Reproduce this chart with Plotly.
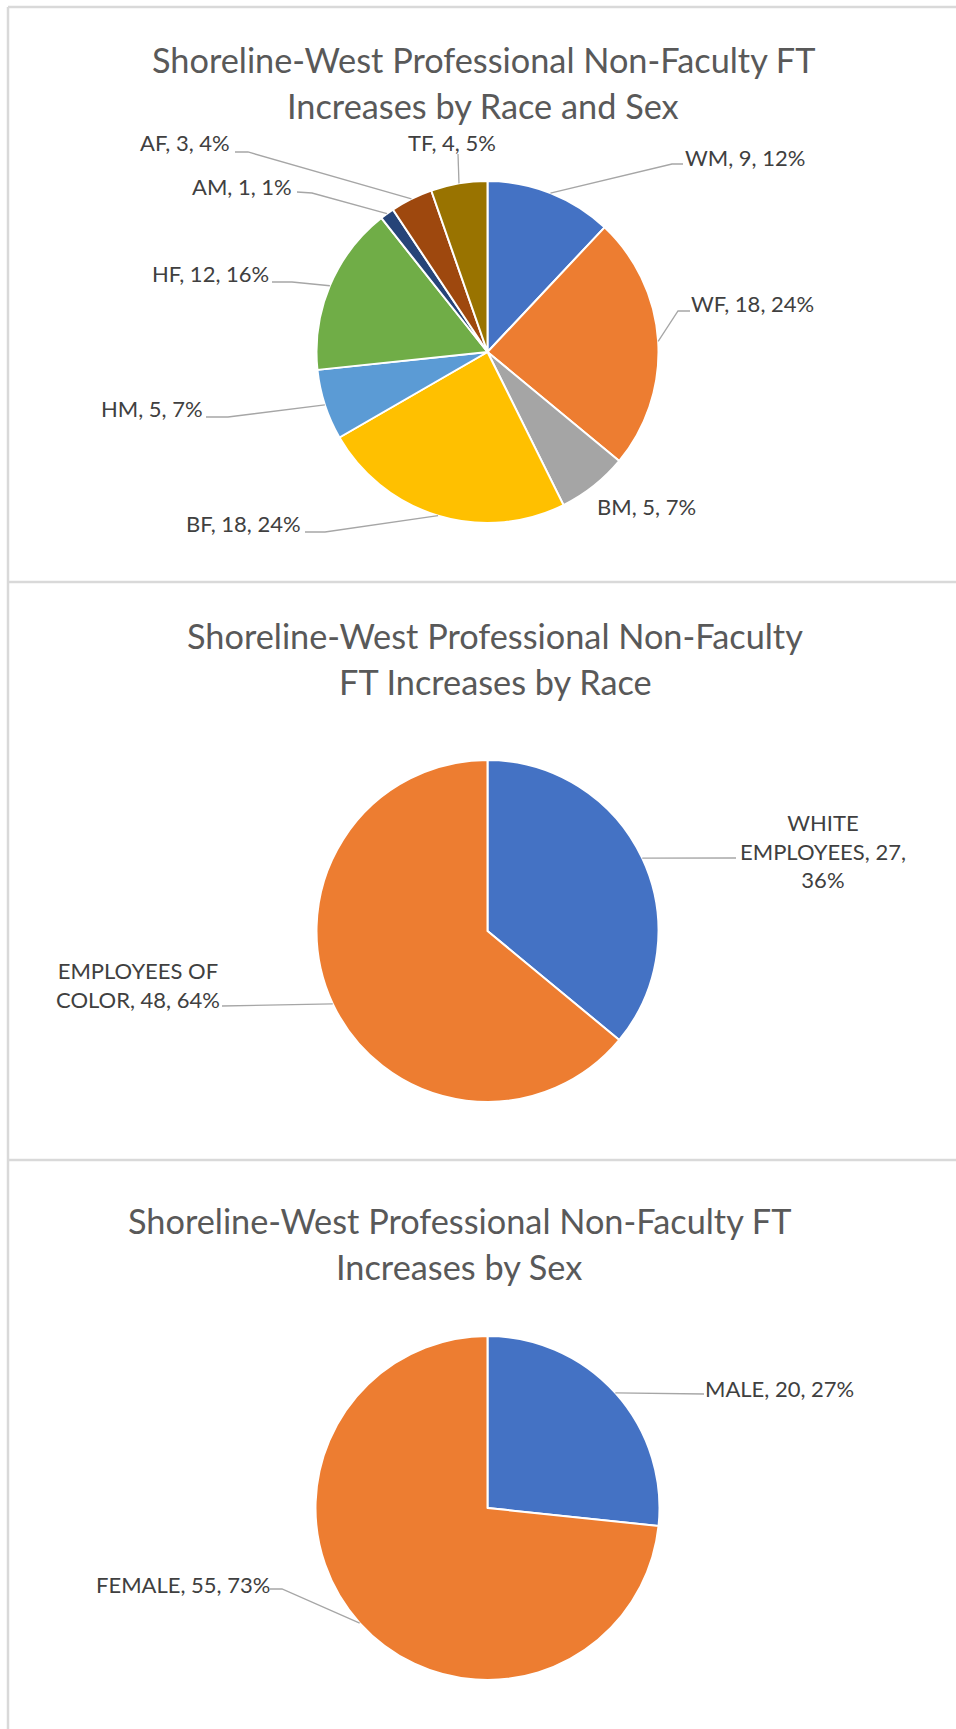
import math
import plotly.graph_objects as go

W, H = 956, 1729

# ---------------- data ----------------
cats1 = ["WM", "WF", "BM", "BF", "HM", "HF", "AM", "AF", "TF"]
vals1 = [9, 18, 5, 18, 5, 12, 1, 3, 4]
cols1 = ["#4472C4", "#ED7D31", "#A5A5A5", "#FFC000", "#5B9BD5",
         "#70AD47", "#264478", "#9E480E", "#997300"]
title1 = ["Shoreline-West Professional Non-Faculty FT", "Increases by Race and Sex"]

cats2 = ["WHITE EMPLOYEES", "EMPLOYEES OF COLOR"]
vals2 = [27, 48]
cols2 = ["#4472C4", "#ED7D31"]
title2 = ["Shoreline-West Professional Non-Faculty", "FT Increases by Race"]

cats3 = ["MALE", "FEMALE"]
vals3 = [20, 55]
cols3 = ["#4472C4", "#ED7D31"]
title3 = ["Shoreline-West Professional Non-Faculty FT", "Increases by Sex"]

# ---------------- layout (pixels) ----------------
FONT = "Lato, Calibri, Carlito, 'Open Sans', sans-serif"
TITLE_SIZE = 34.3
LABEL_SIZE = 22
TITLE_COLOR = "#595959"
LABEL_COLOR = "#404040"
LEADER_COLOR = "#A6A6A6"

charts = [
    dict(cats=cats1, vals=vals1, cols=cols1, title=title1,
         cx=487.5, cy=352, r=171, title_x=483, title_y=[59, 105],
         breaks={},
         labels=[  # text centre, line end (near text), optional elbow
             ((745, 157), (683, 164), (672, 164)),
             ((752, 303), (690, 311), (678, 311)),
             ((646, 507), None, None),
             ((243, 523), (305, 532), (325, 532)),
             ((152, 408), (206, 417), (228, 417)),
             ((210, 273), (272, 282), (292, 282)),
             ((242, 187), (297, 192), (312, 193)),
             ((185, 143), (235, 152), (248, 152)),
             ((452, 142), (458, 154), None),
         ]),
    dict(cats=cats2, vals=vals2, cols=cols2, title=title2,
         cx=487.5, cy=931, r=171, title_x=495, title_y=[635, 681],
         breaks={"WHITE EMPLOYEES, 27, ": "WHITE<br>EMPLOYEES, 27,<br>",
                 "EMPLOYEES OF COLOR, ": "EMPLOYEES OF<br>COLOR, "},
         labels=[
             ((823, 851), (736, 858), None),
             ((138, 985), (222, 1006), None),
         ]),
    dict(cats=cats3, vals=vals3, cols=cols3, title=title3,
         cx=487.5, cy=1508, r=172, title_x=459, title_y=[1220, 1266],
         breaks={},
         labels=[
             ((779, 1388), (704, 1394), None),
             ((183, 1584), (270, 1589), (282, 1589)),
         ]),
]


def px(x):
    return x / W


def py(y):
    return 1 - y / H


fig = go.Figure()
annotations = []
shapes = []

for ch in charts:
    cx, cy, r = ch["cx"], ch["cy"], ch["r"]
    fig.add_trace(go.Pie(
        labels=ch["cats"], values=ch["vals"],
        marker=dict(colors=ch["cols"], line=dict(color="white", width=2)),
        sort=False, direction="clockwise", rotation=0,
        textinfo="none",
        domain=dict(x=[px(cx - r), px(cx + r)], y=[py(cy + r), py(cy - r)]),
    ))
    # titles
    for line, ty in zip(ch["title"], ch["title_y"]):
        annotations.append(dict(
            x=px(ch["title_x"]), y=py(ty), xref="paper", yref="paper",
            text=line, showarrow=False, xanchor="center", yanchor="middle",
            font=dict(family=FONT, size=TITLE_SIZE, color=TITLE_COLOR)))
    # labels + leader lines
    total = sum(ch["vals"])
    cum = 0
    for cat, v, (tpos, lend, elbow) in zip(ch["cats"], ch["vals"], ch["labels"]):
        pct = round(100 * v / total)
        text = f"{cat}, {v}, {pct}%"
        for k, rep in ch["breaks"].items():
            text = text.replace(k, rep)
        annotations.append(dict(
            x=px(tpos[0]), y=py(tpos[1]), xref="paper", yref="paper",
            text=text, showarrow=False, xanchor="center", yanchor="middle",
            align="center",
            font=dict(family=FONT, size=LABEL_SIZE, color=LABEL_COLOR)))
        mid = (cum + v / 2) / total * 2 * math.pi
        cum += v
        if lend is not None:
            ex = cx + r * math.sin(mid)
            ey = cy - r * math.cos(mid)
            pts = [(ex, ey)]
            if elbow is not None:
                pts.append(elbow)
            pts.append(lend)
            path = "M " + " L ".join(f"{px(a):.5f},{py(b):.5f}" for a, b in pts)
            shapes.append(dict(type="path", path=path, xref="paper", yref="paper",
                               line=dict(color=LEADER_COLOR, width=1.3)))

# panel borders
BORDER = "#D9D9D9"
for (x0, y0, x1, y1) in [(8, 7, 956, 7), (8, 7, 8, 1729),
                         (8, 582, 956, 582), (8, 1160, 956, 1160)]:
    shapes.append(dict(type="line", xref="paper", yref="paper",
                       x0=px(x0), y0=py(y0), x1=px(x1), y1=py(y1),
                       line=dict(color=BORDER, width=2.5)))

fig.update_layout(
    width=W, height=H, margin=dict(l=0, r=0, t=0, b=0),
    paper_bgcolor="white", plot_bgcolor="white",
    showlegend=False, annotations=annotations, shapes=shapes,
)

fig.write_html("out.html",
               config={"displayModeBar": False},
               post_script="document.body.style.margin='0';document.body.style.overflow='hidden';")
